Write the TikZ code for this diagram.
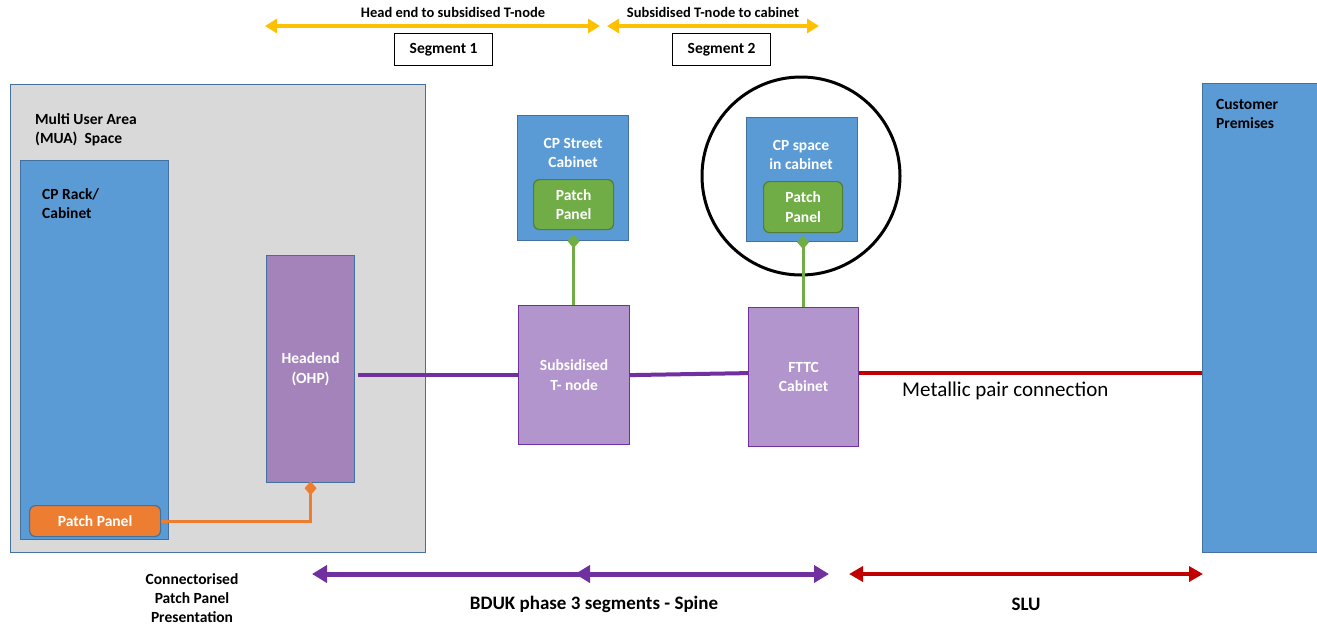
\documentclass[tikz,border=0pt]{standalone}
\usepackage{fontspec}
\setmainfont{Carlito}
\usetikzlibrary{arrows.meta,calc}
\definecolor{cpblue}{HTML}{5B9BD5}
\definecolor{cpedge}{HTML}{41719C}
\definecolor{muagrey}{HTML}{D9D9D9}
\definecolor{headfill}{HTML}{A483BA}
\definecolor{nodefill}{HTML}{B395CD}
\definecolor{spine}{HTML}{7030A0}
\definecolor{ppgreen}{HTML}{70AD47}
\definecolor{ppgreenedge}{HTML}{507E32}
\definecolor{pporange}{HTML}{ED7D31}
\definecolor{slured}{HTML}{C00000}
\definecolor{segyellow}{HTML}{FFC000}
\tikzset{
  box/.style={draw, line width=1.2pt, anchor=north west, inner sep=0pt, minimum width=#1},
  bluebox/.style={fill=cpblue, draw=cpedge},
  txt/.style={font=\fontsize{15.5}{19.5}\selectfont\bfseries, align=left, inner sep=0pt},
  wtxt/.style={font=\fontsize{15.5}{19.5}\selectfont\bfseries, align=center, text=white, inner sep=0pt},
  ppanel/.style={draw=ppgreenedge, fill=ppgreen, rounded corners=6pt, line width=1.2pt, anchor=north west, inner sep=0pt},
  segbox/.style={draw, line width=1.2pt, anchor=north west, inner sep=0pt, minimum width=98pt, minimum height=32pt, font=\fontsize{15.5}{17}\selectfont\bfseries},
  yarrow/.style={segyellow, line width=3.5pt, {Triangle[width=14pt,length=12pt]}-{Triangle[width=14pt,length=12pt]}},
  parrow/.style={spine, line width=5pt, {Triangle[width=17pt,length=15pt]}-{Triangle[width=17pt,length=15pt]}},
  rarrow/.style={slured, line width=4pt, {Triangle[width=15pt,length=14pt]}-{Triangle[width=15pt,length=14pt]}},
  diamtip/.style={-{Diamond[width=12pt,length=14pt]}},
}
\begin{document}
\begin{tikzpicture}[x=1pt,y=-1pt]
\useasboundingbox (0,0) rectangle (1317,624);

% MUA area
\node[box=415pt, minimum height=468pt, fill=muagrey, draw=cpedge] (mua) at (10,84) {};
\node[txt, anchor=north west] (muatxt) at (35,113) {Multi User Area\\(MUA)\ \ Space};

% CP rack
\node[box=148pt, minimum height=379pt, bluebox] (rack) at (20,160) {};
\node[txt, anchor=north west] (racktxt) at (42,188) {CP Rack/\\Cabinet};

% Orange patch panel
\node[draw=cpedge, fill=pporange, rounded corners=6pt, line width=1.2pt, anchor=north west, inner sep=0pt, minimum width=131pt, minimum height=31pt, wtxt] (opp) at (29,505) {Patch Panel};

% Headend
\node[box=88pt, minimum height=227pt, fill=headfill, draw=cpedge, wtxt] (head) at (266,255) {Headend\\(OHP)};

% CP street cabinet
\node[box=111pt, minimum height=125pt, bluebox] (street) at (517,115) {};
\node[wtxt, anchor=north] (streettxt) at (573,138) {CP Street\\Cabinet};
\node[ppanel, minimum width=80pt, minimum height=50pt, wtxt] (gpp1) at (533,179) {Patch\\Panel};

% Subsidised T-node
\node[box=111pt, minimum height=139pt, fill=nodefill, draw=spine, wtxt] (tnode) at (518,305) {Subsidised\\T- node};

% CP space in cabinet
\node[box=111pt, minimum height=124pt, bluebox] (space) at (746,117) {};
\node[wtxt, anchor=north] (spacetxt) at (801,140) {CP space\\in cabinet};
\node[ppanel, minimum width=79pt, minimum height=51pt, wtxt] (gpp2) at (763,181) {Patch\\Panel};

% Circle
\node[draw, circle, line width=3pt, minimum size=198pt, inner sep=0pt] (ring) at (801,176) {};

% FTTC cabinet
\node[box=110pt, minimum height=139pt, fill=nodefill, draw=spine, wtxt] (fttc) at (748,307) {FTTC\\Cabinet};

% Customer premises
\node[box=118pt, minimum height=469pt, bluebox] (cust) at (1202,83) {};
\node[txt, anchor=north west] (custtxt) at (1216,99) {Customer\\Premises};

% Connectors
\draw[pporange, line width=3pt, diamtip] (opp.east) -| ([yshift=2pt]head.south);
\draw[ppgreen, line width=3pt, diamtip] (tnode.north -| gpp1.south) -- ([yshift=7pt]street.south -| gpp1.south);
\draw[ppgreen, line width=3pt, diamtip] (fttc.north -| gpp2.south) -- ([yshift=7pt]space.south -| gpp2.south);
\draw[spine, line width=4pt] ([xshift=3pt]head.east |- tnode.west) -- (tnode.west);
\draw[spine, line width=4pt] (tnode.east) -- ([yshift=4pt]fttc.west);
\draw[slured, line width=4pt] ([yshift=4pt]fttc.east) -- ([yshift=4pt]fttc.east -| cust.west);
\node[font=\fontsize{21}{24}\selectfont, anchor=west, inner sep=0pt] (metal) at (902,391) {Metallic pair connection};

% Top segment arrows
\coordinate (s1a) at (265,26);
\coordinate (s1b) at (600,26);
\coordinate (s2a) at (607,26);
\coordinate (s2b) at (819,26);
\draw[yarrow] (s1a) -- (s1b);
\draw[yarrow] (s2a) -- (s2b);
\node[font=\fontsize{14.5}{16}\selectfont\bfseries, inner sep=0pt] (s1txt) at (453,12) {Head end to subsidised T-node};
\node[font=\fontsize{14.5}{16}\selectfont\bfseries, inner sep=0pt] (s2txt) at (713,12) {Subsidised T-node to cabinet};
\node[segbox] (seg1) at (394,33) {Segment 1};
\node[segbox] (seg2) at (672,33) {Segment 2};

% Bottom arrows
\coordinate (b1) at (312,574);
\coordinate (b2) at (600,574);
\coordinate (b3) at (575,574);
\coordinate (b4) at (829,574);
\coordinate (r1) at (849,574);
\coordinate (r2) at (1203,574);
\draw[spine, line width=5pt, {Triangle[width=17pt,length=15pt]}-] (b1) -- (b2);
\draw[parrow] (b3) -- (b4);
\draw[rarrow] (r1) -- (r2);
\node[font=\fontsize{19}{22}\selectfont\bfseries, inner sep=0pt] (spinetxt) at (594,604) {BDUK phase 3 segments - Spine};
\node[font=\fontsize{19}{22}\selectfont\bfseries, inner sep=0pt] (slutxt) at (1026,604) {SLU};
\node[font=\fontsize{15.5}{19}\selectfont\bfseries, align=center, inner sep=0pt] (conntxt) at (192,598) {Connectorised\\Patch Panel\\Presentation};
\end{tikzpicture}
\end{document}
